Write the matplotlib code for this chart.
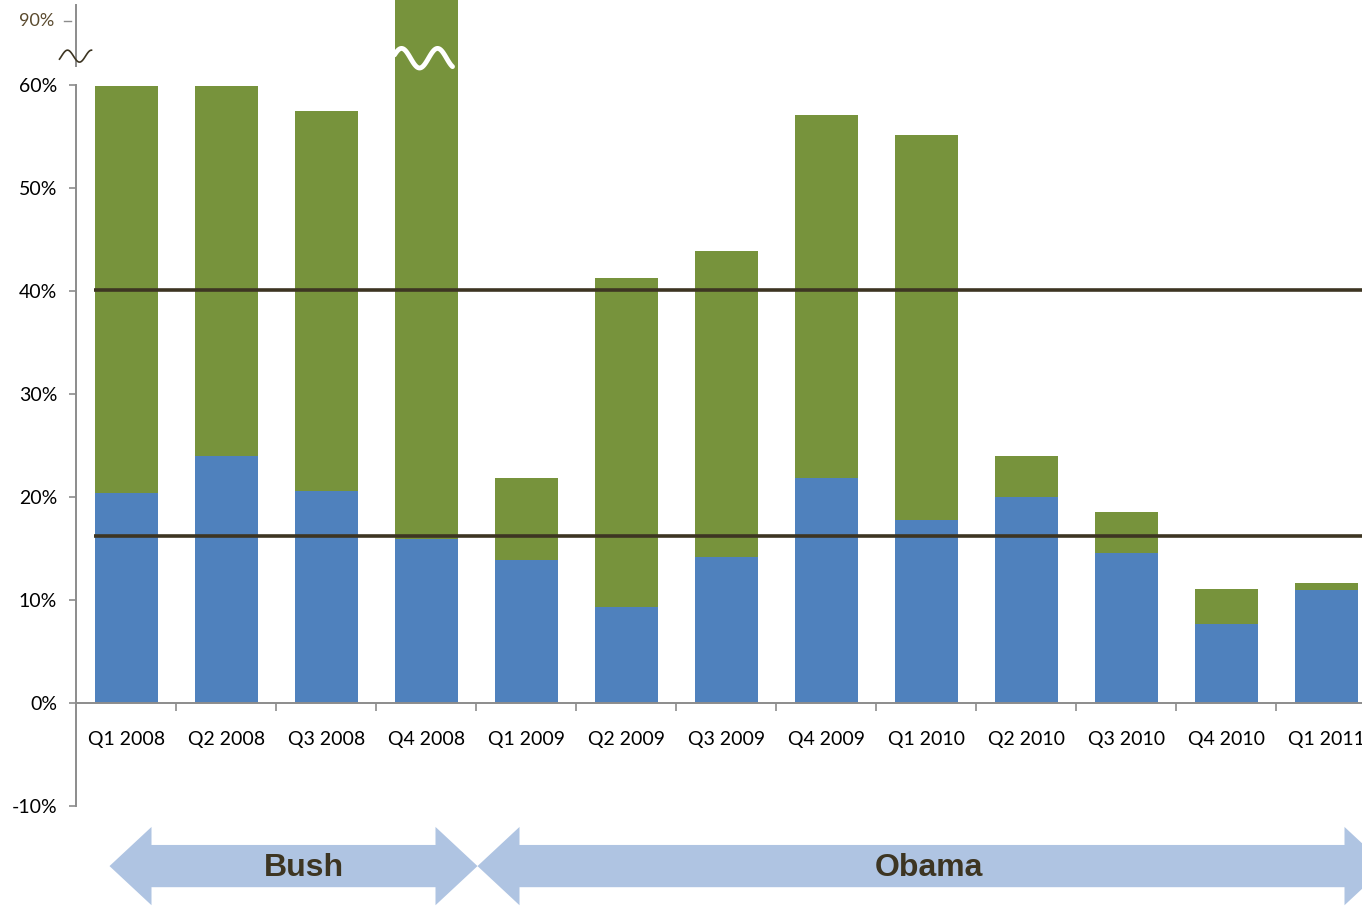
import numpy as np
import matplotlib
matplotlib.use("Agg")
import matplotlib.pyplot as plt
from matplotlib.patches import Polygon

quarters = ["Q1 2008", "Q2 2008", "Q3 2008", "Q4 2008", "Q1 2009", "Q2 2009",
            "Q3 2009", "Q4 2009", "Q1 2010", "Q2 2010", "Q3 2010", "Q4 2010", "Q1 2011"]
blue_vals = [20.4, 24.0, 20.6, 15.9, 13.9, 9.3, 14.2, 21.8, 17.8, 20.0, 14.6, 7.7, 11.0]
total_vals = [59.9, 59.9, 57.5, 88.0, 21.8, 41.3, 43.9, 57.1, 55.1, 24.0, 18.5, 11.1, 11.7]
ref_lines = [40.1, 16.2]
yticks = [-10, 0, 10, 20, 30, 40, 50, 60]
eras = [("Bush", 0, 3), ("Obama", 4, 12)]

BLUE = "#4F81BD"
GREEN = "#77933C"
DARK = "#3D3522"
ARROW = "#AFC4E2"
AXIS = "#8C8C8C"

plt.rcParams['font.family'] = ['Lato', 'DejaVu Sans']

fig = plt.figure(figsize=(13.62, 9.08), dpi=100)
ax = fig.add_axes([0, 0, 1, 1])
ax.set_xlim(-1.265, 12.355)
ax.set_ylim(-19.9, 68.25)

x = np.arange(len(quarters))
green_vals = [t - b for t, b in zip(total_vals, blue_vals)]
ax.bar(x, blue_vals, width=0.63, color=BLUE, zorder=2)
ax.bar(x, green_vals, width=0.63, bottom=blue_vals, color=GREEN, zorder=2)

for v in ref_lines:
    ax.plot([-0.32, 12.6], [v, v], color=DARK, lw=2.6, zorder=3, solid_capstyle='butt')

# axes styling
for s in ["top", "right"]:
    ax.spines[s].set_visible(False)
ax.spines["left"].set_position(("data", -0.5))
ax.spines["left"].set_bounds(-10, 60)
ax.spines["bottom"].set_position(("data", 0))
ax.spines["bottom"].set_bounds(-0.5, 12.355)
for s in ["left", "bottom"]:
    ax.spines[s].set_color(AXIS)
    ax.spines[s].set_linewidth(1.4)

ax.set_yticks(yticks)
ax.set_yticklabels([f"{v}%" for v in yticks])
ax.tick_params(axis="y", direction="out", length=5, color=AXIS, width=1.2,
               labelsize=14, pad=9)
ax.set_xticks(x)
ax.set_xticklabels(quarters)
ax.set_xticks(x[:-1] + 0.5, minor=True)
ax.tick_params(axis="x", which="major", length=0, labelsize=14, pad=20)
ax.tick_params(axis="x", which="minor", direction="out", length=6, color=AXIS, width=1.2)

# broken axis top part
ax.plot([-0.505, -0.505], [61.8, 67.8], color=AXIS, lw=1.4, clip_on=False)
ax.plot([-0.62, -0.55], [66.2, 66.2], color=AXIS, lw=1.0)
ax.text(-0.72, 66.2, "90%", ha="right", va="center", fontsize=13, color="#5A4A2E")
t = np.linspace(0, 1, 80)
ph = -np.pi / 6 + t * (2.5 * np.pi + np.pi / 6)
ax.plot(-0.67 + 0.32 * t, 62.8 + 0.58 * np.sin(ph), color=DARK, lw=1.2)
ph2 = 0.11 * np.pi + t * 3.22 * np.pi
ax.plot(2.68 + 0.58 * t, 62.6 + 0.95 * np.sin(ph2), color="white", lw=3.5,
        zorder=4, solid_capstyle='round')


def double_arrow(x0, x1, yc, head_len=0.42, shaft_h=2.05, head_h=3.8, color=ARROW):
    pts = [(x0, yc), (x0 + head_len, yc + head_h), (x0 + head_len, yc + shaft_h),
           (x1 - head_len, yc + shaft_h), (x1 - head_len, yc + head_h), (x1, yc),
           (x1 - head_len, yc - head_h), (x1 - head_len, yc - shaft_h),
           (x0 + head_len, yc - shaft_h), (x0 + head_len, yc - head_h)]
    ax.add_patch(Polygon(pts, closed=True, facecolor=color, edgecolor="none", zorder=1))


yc = -15.83
double_arrow(eras[0][1] - 0.17, eras[0][2] + 0.51, yc)
double_arrow(eras[1][1] - 0.49, eras[1][2] + 0.6, yc)
ax.text(1.77, yc - 0.2, eras[0][0], ha="center", va="center", fontsize=23, fontweight="bold",
        color=DARK, family=["Liberation Sans", "DejaVu Sans"])
ax.text(8.02, yc - 0.2, eras[1][0], ha="center", va="center", fontsize=23, fontweight="bold",
        color=DARK, family=["Liberation Sans", "DejaVu Sans"])

fig.savefig("out.png", dpi=100)
